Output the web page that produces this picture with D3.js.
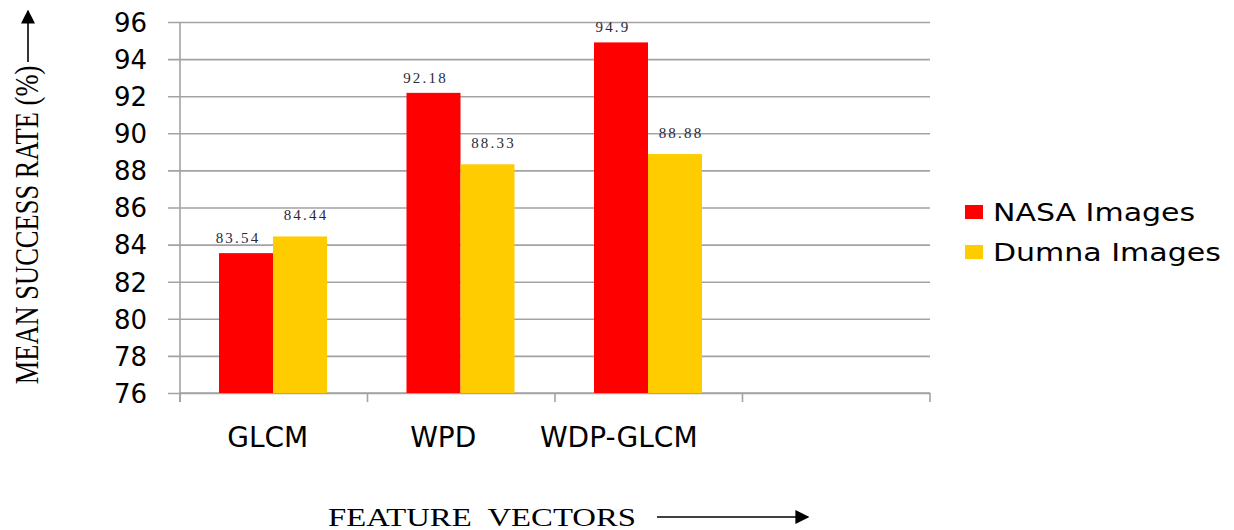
<!DOCTYPE html>
<html>
<head>
<meta charset="utf-8">
<script src="https://cdn.jsdelivr.net/npm/d3@7/dist/d3.min.js"></script>
<style>
  html, body { margin: 0; padding: 0; background: #fff; }
  svg { display: block; }
</style>
</head>
<body>
<svg id="chart" width="1234" height="530"></svg>
<script>
// Mean success rate per feature vector, for the two image sets
const categories = ["GLCM", "WPD", "WDP-GLCM"];
const seriesNames = ["NASA Images", "Dumna Images"];
const nasaValues = [83.54, 92.18, 94.9];
const dumnaValues = [84.44, 88.33, 88.88];
const yTicks = [76, 78, 80, 82, 84, 86, 88, 90, 92, 94, 96];
const slotCount = 4; // the axis reserves one empty category slot on the right

const colors = ["#ff0000", "#ffcc00"];
const seriesValues = [nasaValues, dumnaValues];

const svg = d3.select("#chart");

const plot = { left: 180, right: 930, top: 22, bottom: 393 };

const y = d3.scaleLinear().domain([76, 96]).range([plot.bottom, plot.top]);
const x0 = d3.scaleBand().domain(d3.range(slotCount)).range([plot.left, plot.right]).padding(0);
const x1 = d3.scaleBand().domain(seriesNames)
  .range([x0.bandwidth() * 0.208, x0.bandwidth() * 0.784]).padding(0);

// Horizontal gridlines with tick stubs to the left of the axis
const yAxis = d3.axisLeft(y).tickValues(yTicks)
  .tickSize(-(plot.right - plot.left)).tickSizeOuter(0).tickPadding(20)
  .tickFormat(d3.format("d"));
const gy = svg.append("g").attr("transform", `translate(${plot.left},0)`).call(yAxis);
gy.select(".domain").remove();
gy.selectAll(".tick line").attr("stroke", "#a3a3a3").attr("stroke-width", 1.6)
  .attr("x1", -12);
gy.selectAll(".tick text")
  .attr("font-family", "'DejaVu Sans', Verdana, sans-serif")
  .attr("font-size", 26).attr("fill", "#000").attr("x", -33).attr("dy", "0.36em");

// Vertical axis line
svg.append("line")
  .attr("x1", plot.left).attr("x2", plot.left)
  .attr("y1", plot.top).attr("y2", plot.bottom + 9)
  .attr("stroke", "#a3a3a3").attr("stroke-width", 1.6);

// Category axis: baseline plus boundary ticks between slots
const boundaries = d3.range(slotCount + 1).map(i =>
  i < slotCount ? x0(i) : x0(slotCount - 1) + x0.bandwidth());
svg.append("line")
  .attr("x1", plot.left).attr("x2", plot.right)
  .attr("y1", y(76)).attr("y2", y(76))
  .attr("stroke", "#a3a3a3").attr("stroke-width", 1.6);
svg.append("g").selectAll("line").data(boundaries).join("line")
  .attr("x1", d => d).attr("x2", d => d)
  .attr("y1", y(76)).attr("y2", y(76) + 9)
  .attr("stroke", "#a3a3a3").attr("stroke-width", 1.6);

svg.append("g").selectAll("text").data(categories).join("text")
  .attr("x", (d, i) => x0(i) + x0.bandwidth() / 2 - 6 - 12 * i)
  .attr("y", 447)
  .attr("text-anchor", "middle")
  .attr("font-family", "'DejaVu Sans', Verdana, sans-serif")
  .attr("font-size", 28).attr("fill", "#000")
  .text(d => d);

// Bars
const groups = svg.append("g").selectAll("g").data(categories).join("g")
  .attr("transform", (d, i) => `translate(${x0(i)},0)`);

groups.selectAll("rect")
  .data((d, i) => seriesNames.map((s, k) => ({ s, k, v: seriesValues[k][i] })))
  .join("rect")
  .attr("x", d => x1(d.s))
  .attr("width", x1.bandwidth())
  .attr("y", d => y(d.v))
  .attr("height", d => y(76) - y(d.v))
  .attr("fill", d => colors[d.k]);

// Value labels above each bar
groups.selectAll("text.value")
  .data((d, i) => seriesNames.map((s, k) => ({ s, k, v: seriesValues[k][i] })))
  .join("text")
  .attr("class", "value")
  .attr("x", d => x1(d.s) + x1.bandwidth() / 2 + (d.k === 0 ? -8 : 6))
  .attr("y", d => y(d.v) - (d.k === 0 ? 10 : 16))
  .attr("text-anchor", "middle")
  .attr("font-family", "'Liberation Serif', 'Times New Roman', serif")
  .attr("font-size", 15)
  .attr("letter-spacing", 2.2)
  .attr("fill", "#2a2a3a")
  .text(d => d.v);

// Legend
const legend = svg.append("g").selectAll("g").data(seriesNames).join("g")
  .attr("transform", (d, i) => `translate(965,${205 + i * 40})`);
legend.append("rect").attr("width", 18).attr("height", 14)
  .attr("fill", (d, i) => colors[i]);
legend.append("text")
  .attr("transform", "translate(28,16) scale(1.2,1)")
  .attr("font-family", "'DejaVu Sans', Verdana, sans-serif")
  .attr("font-size", 25).attr("fill", "#000")
  .text(d => d);

// Axis titles with arrows
const defs = svg.append("defs");
defs.append("marker").attr("id", "arrowhead")
  .attr("viewBox", "0 0 10 10").attr("refX", 9).attr("refY", 5)
  .attr("markerWidth", 14).attr("markerHeight", 14).attr("orient", "auto")
  .attr("markerUnits", "userSpaceOnUse")
  .append("path").attr("d", "M0,0 L10,5 L0,10 Z").attr("fill", "#000");

svg.append("text")
  .attr("transform", "translate(38,225) scale(1.25,1) rotate(-90)")
  .attr("text-anchor", "middle")
  .attr("font-family", "'Liberation Serif', 'Times New Roman', serif")
  .attr("font-size", 26.5).attr("fill", "#000")
  .text("MEAN SUCCESS RATE (%)");
svg.append("line")
  .attr("x1", 28).attr("x2", 28).attr("y1", 62).attr("y2", 11)
  .attr("stroke", "#000").attr("stroke-width", 1.6)
  .attr("marker-end", "url(#arrowhead)");

svg.append("text")
  .attr("transform", "translate(328,526) scale(1.31,1)")
  .attr("font-family", "'Liberation Serif', 'Times New Roman', serif")
  .attr("font-size", 25).attr("fill", "#000")
  .style("white-space", "pre")
  .text("FEATURE  VECTORS");
svg.append("line")
  .attr("x1", 657).attr("x2", 808).attr("y1", 517).attr("y2", 517)
  .attr("stroke", "#000").attr("stroke-width", 1.6)
  .attr("marker-end", "url(#arrowhead)");
</script>
</body>
</html>
